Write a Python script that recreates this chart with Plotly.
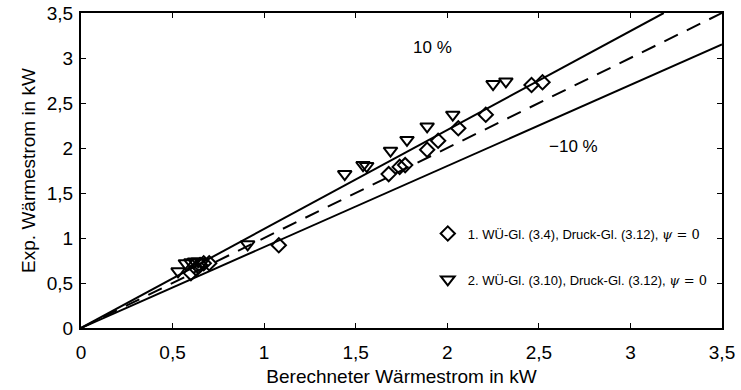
import plotly.graph_objects as go

# Series 1: diamonds
s1_x = [0.60, 0.63, 0.65, 0.67, 0.70, 1.08, 1.68, 1.74, 1.77, 1.89, 1.95, 2.06, 2.21, 2.46, 2.52]
s1_y = [0.61, 0.66, 0.70, 0.72, 0.72, 0.92, 1.71, 1.79, 1.81, 1.98, 2.08, 2.22, 2.37, 2.70, 2.73]
# Series 2: triangles down
s2_x = [0.53, 0.57, 0.60, 0.62, 0.64, 0.66, 0.91, 1.44, 1.54, 1.56, 1.69, 1.78, 1.89, 2.03, 2.25, 2.32]
s2_y = [0.63, 0.72, 0.73, 0.74, 0.74, 0.73, 0.93, 1.71, 1.81, 1.80, 1.97, 2.09, 2.24, 2.37, 2.71, 2.74]

# Reference lines
ref_x = [0.0, 3.5]
upper_factor = 1.1
lower_factor = 0.9

psi = "<span style='font-family:\"DejaVu Serif\"'><i>ψ</i> = 0</span>"
s1_name = "1. WÜ-Gl. (3.4), Druck-Gl. (3.12), " + psi
s2_name = "2. WÜ-Gl. (3.10), Druck-Gl. (3.12), " + psi

fig = go.Figure()

fig.add_trace(go.Scatter(x=[ref_x[0], ref_x[1] / upper_factor], y=[ref_x[0] * upper_factor, ref_x[1]],
                         mode="lines", line=dict(color="black", width=2), showlegend=False, hoverinfo="skip"))
fig.add_trace(go.Scatter(x=ref_x, y=[v * lower_factor for v in ref_x],
                         mode="lines", line=dict(color="black", width=2), showlegend=False, hoverinfo="skip"))
fig.add_trace(go.Scatter(x=ref_x, y=ref_x,
                         mode="lines", line=dict(color="black", width=2, dash="15px,10px"), showlegend=False, hoverinfo="skip"))

fig.add_trace(go.Scatter(x=s1_x, y=s1_y, mode="markers", name=s1_name,
                         marker=dict(symbol="diamond-open", size=11, color="black", line=dict(width=2, color="black")),
                         legend="legend"))
fig.add_trace(go.Scatter(x=s2_x, y=s2_y, mode="markers", name=s2_name,
                         marker=dict(symbol="triangle-down-open", size=12, color="black", line=dict(width=2, color="black")),
                         legend="legend2"))

fig.add_annotation(x=1.92, y=3.12, text="10 %", showarrow=False, font=dict(size=17, color="black"))
fig.add_annotation(x=2.69, y=2.02, text="−10 %", showarrow=False, font=dict(size=17, color="black"))

axis_common = dict(range=[0, 3.5], dtick=0.5, tick0=0, ticks="inside", ticklen=5, tickwidth=1,
                   tickcolor="black", showline=True, linecolor="black", linewidth=2, mirror="ticks",
                   showgrid=False, zeroline=False, tickfont=dict(size=19, color="black"), automargin=False)

fig.update_layout(
    width=741, height=390,
    margin=dict(l=81, r=19, t=13, b=62, autoexpand=False),
    paper_bgcolor="white", plot_bgcolor="white",
    font=dict(family="Liberation Sans, Arial, sans-serif", color="black"),
    separators=", ",
    xaxis=dict(**axis_common, ticklabelstandoff=6,
               title=dict(text="Berechneter Wärmestrom in kW", font=dict(size=19), standoff=8)),
    yaxis=dict(**axis_common, ticklabelstandoff=2,
               title=dict(text="Exp. Wärmestrom in kW", font=dict(size=19), standoff=6)),
    legend=dict(x=0.541, y=0.300, xanchor="left", yanchor="middle", bgcolor="rgba(0,0,0,0)",
                font=dict(size=13), itemwidth=30),
    legend2=dict(x=0.541, y=0.154, xanchor="left", yanchor="middle", bgcolor="rgba(0,0,0,0)",
                 font=dict(size=13), itemwidth=30),
)

fig.write_html("out.html")
